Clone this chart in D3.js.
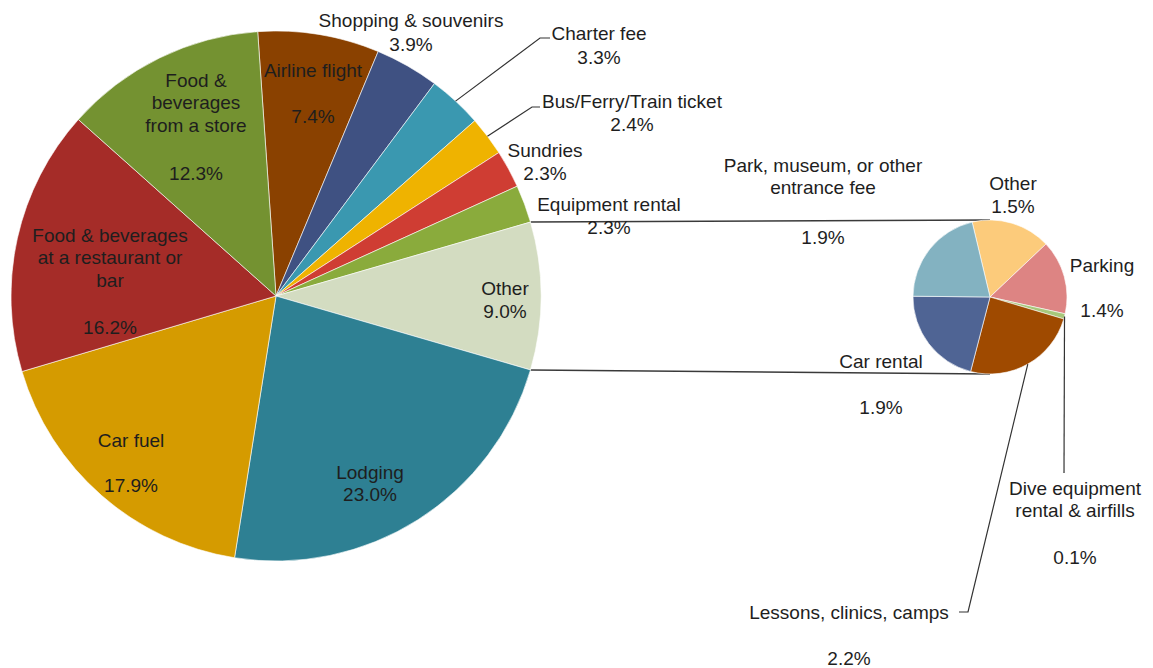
<!DOCTYPE html>
<html>
<head>
<meta charset="utf-8">
<script src="https://cdn.jsdelivr.net/npm/d3@7"></script>
<style>
  html, body { margin: 0; padding: 0; background: #fff; }
  svg text { font-family: "Liberation Sans", Arial, sans-serif; font-size: 19px; }
</style>
</head>
<body>
<svg id="chart" width="1153" height="668"></svg>
<script>
// ---------------- DATA ----------------
const categories = ["Airline flight", "Shopping & souvenirs", "Charter fee", "Bus/Ferry/Train ticket",
  "Sundries", "Equipment rental", "Other", "Lodging", "Car fuel",
  "Food & beverages at a restaurant or bar", "Food & beverages from a store"];
const values = [7.4, 3.9, 3.3, 2.4, 2.3, 2.3, 9.0, 23.0, 17.9, 16.2, 12.3];

const subCategories = ["Other", "Parking", "Dive equipment rental & airfills",
  "Lessons, clinics, camps", "Car rental", "Park, museum, or other entrance fee"];
const subValues = [1.5, 1.4, 0.1, 2.2, 1.9, 1.9];

// ---------------- STYLE / LAYOUT ----------------
const colors = ["#8a4100", "#3f5182", "#3a98b0", "#efb300", "#cf3d33", "#8aab3c",
  "#d3dcc1", "#2e8093", "#d59b00", "#a52c28", "#749231"];
const subColors = ["#fccb7b", "#dd8483", "#a7c77a", "#9f4a00", "#4f6494", "#83b2c1"];

const main = { cx: 276, cy: 296, r: 265 };
const sub = { cx: 990, cy: 297, r: 77, startDeg: -13.4 };
const lineH = 22.5;

// label layout: lines of text, x, y of first line center, y of percentage center
const mainLabels = {
  "Airline flight": { lines: ["Airline flight"], x: 313, y: 70, py: 116 },
  "Shopping & souvenirs": { lines: ["Shopping & souvenirs"], x: 411, y: 20, py: 44 },
  "Charter fee": { lines: ["Charter fee"], x: 599, y: 33, py: 57, leader: [[540, 38], [550, 38]] },
  "Bus/Ferry/Train ticket": { lines: ["Bus/Ferry/Train ticket"], x: 632, y: 101, py: 124, leader: [[532, 107], [540, 107]] },
  "Sundries": { lines: ["Sundries"], x: 545, y: 150, py: 173 },
  "Equipment rental": { lines: ["Equipment rental"], x: 609, y: 204, py: 227 },
  "Other": { lines: ["Other"], x: 505, y: 288, py: 311 },
  "Lodging": { lines: ["Lodging"], x: 370, y: 472, py: 494 },
  "Car fuel": { lines: ["Car fuel"], x: 131, y: 440, py: 485 },
  "Food & beverages at a restaurant or bar": { lines: ["Food & beverages", "at a restaurant or", "bar"], x: 110, y: 235, py: 327 },
  "Food & beverages from a store": { lines: ["Food &", "beverages", "from a store"], x: 196, y: 80, py: 173 }
};
const subLabels = {
  "Other": { lines: ["Other"], x: 1013, y: 183, py: 206 },
  "Parking": { lines: ["Parking"], x: 1102, y: 265, py: 310 },
  "Dive equipment rental & airfills": { lines: ["Dive equipment", "rental & airfills"], x: 1075, y: 488, py: 557, leader: [[1064, 473]] },
  "Lessons, clinics, camps": { lines: ["Lessons, clinics, camps"], x: 849, y: 612, py: 658, leader: [[968, 612], [959, 612]] },
  "Car rental": { lines: ["Car rental"], x: 881, y: 361, py: 407 },
  "Park, museum, or other entrance fee": { lines: ["Park, museum, or other", "entrance fee"], x: 823, y: 165, py: 237 }
};

// ---------------- DRAW ----------------
const svg = d3.select("#chart");
const rad = d => d * Math.PI / 180;

// main pie: "Other" centered at 3 o'clock
const total = d3.sum(values);
const otherIdx = categories.indexOf("Other");
const before = d3.sum(values.slice(0, otherIdx));
const mainStart = Math.PI / 2 - (before + values[otherIdx] / 2) / total * 2 * Math.PI;

const mainPie = d3.pie().sort(null).value(d => d.v)
  .startAngle(mainStart).endAngle(mainStart + 2 * Math.PI);
const mainArcs = mainPie(categories.map((c, i) => ({ c, v: values[i], col: colors[i] })));
const mainArc = d3.arc().innerRadius(0).outerRadius(main.r);

const subPie = d3.pie().sort(null).value(d => d.v)
  .startAngle(rad(sub.startDeg)).endAngle(rad(sub.startDeg) + 2 * Math.PI);
const subArcs = subPie(subCategories.map((c, i) => ({ c, v: subValues[i], col: subColors[i] })));
const subArc = d3.arc().innerRadius(0).outerRadius(sub.r);

const polar = (o, a, r) => [o.cx + r * Math.sin(a), o.cy - r * Math.cos(a)];

// connector lines between Other slice and sub pie
const otherArc = mainArcs[otherIdx];
const conn = svg.append("g").attr("stroke", "#3a3a3a").attr("stroke-width", 1.4).attr("fill", "none");
const pTop = polar(main, otherArc.startAngle, main.r);
const pBot = polar(main, otherArc.endAngle, main.r);
conn.append("line").attr("x1", pTop[0]).attr("y1", pTop[1]).attr("x2", sub.cx).attr("y2", sub.cy - sub.r);
conn.append("line").attr("x1", pBot[0]).attr("y1", pBot[1]).attr("x2", sub.cx).attr("y2", sub.cy + sub.r);

// slices
svg.append("g").attr("transform", `translate(${main.cx},${main.cy})`)
  .selectAll("path").data(mainArcs).join("path")
  .attr("d", mainArc).attr("fill", d => d.data.col)
  .attr("stroke", "#fff").attr("stroke-width", 0.6);

svg.append("g").attr("transform", `translate(${sub.cx},${sub.cy})`)
  .selectAll("path").data(subArcs).join("path")
  .attr("d", subArc).attr("fill", d => d.data.col)
  .attr("stroke", "#fff").attr("stroke-width", 0.6);

// labels & leaders
function drawLabels(arcs, layout, origin, radius) {
  const g = svg.append("g");
  arcs.forEach(d => {
    const L = layout[d.data.c];
    if (!L) return;
    if (L.leader) {
      const mid = (d.startAngle + d.endAngle) / 2;
      const pts = [polar(origin, mid, radius)].concat(L.leader);
      g.append("path").attr("d", d3.line()(pts))
        .attr("fill", "none").attr("stroke", "#333").attr("stroke-width", 1.2);
    }
    L.lines.forEach((t, i) => {
      g.append("text").attr("x", L.x).attr("y", L.y + i * lineH + 6.5)
        .attr("text-anchor", "middle").attr("fill", "#1e1e1e").text(t);
    });
    g.append("text").attr("x", L.x).attr("y", L.py + 6.5)
      .attr("text-anchor", "middle").attr("fill", "#1e1e1e")
      .text(d.data.v.toFixed(1) + "%");
  });
}
drawLabels(mainArcs, mainLabels, main, main.r);
drawLabels(subArcs, subLabels, sub, sub.r);
</script>
</body>
</html>
